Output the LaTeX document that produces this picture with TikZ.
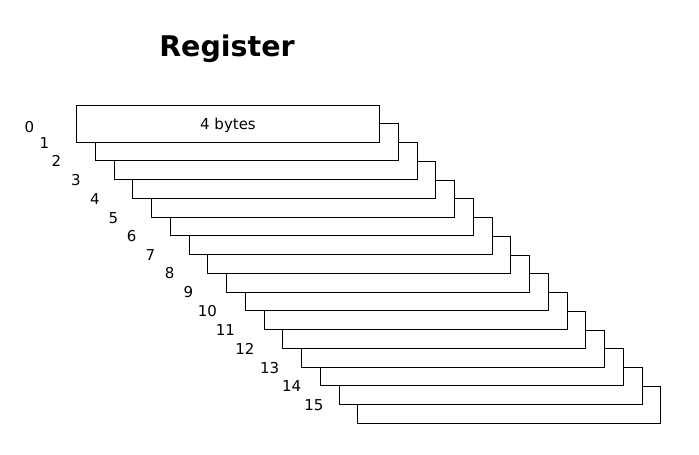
\documentclass[tikz,border=0pt]{standalone}
\usepackage{fontspec}
\setmainfont{DejaVu Sans}
\begin{document}
\begin{tikzpicture}[x=1pt,y=-1pt,
  regbox/.style={draw=black,fill=white,line width=1pt,minimum width=303pt,minimum height=37pt,inner sep=0pt,outer sep=0pt,anchor=center},
  boxtext/.style={inner sep=0pt,anchor=base,font=\fontsize{15}{18}\selectfont},
  idxlabel/.style={inner sep=0pt,anchor=base,font=\fontsize{15}{18}\selectfont},
  titlestyle/.style={inner sep=0pt,anchor=base,font=\fontsize{28.5}{34}\selectfont\bfseries}]
\useasboundingbox (0,0) rectangle (699,455);
\node[titlestyle] (title) at (227,56) {Register};
\foreach \k in {15,14,...,0}{
  \node[regbox] (r\k) at ({228+18.75*\k},{123.5+18.75*\k}) {};
}
\node[boxtext] (t0) at (228,129.3) {4 bytes};
\foreach \k/\x/\y in {0/29.5/132,1/44.5/148,2/56.5/166,3/76/185,4/95/204,5/113.5/223,6/131.7/241.5,7/150.3/260,8/169.7/278.5,9/188.5/297.5,10/207.5/316,11/225.5/335,12/245/354,13/269.7/373,14/291.7/391.5,15/314/410}{
  \node[idxlabel] (l\k) at (\x,\y) {\k};
}
\end{tikzpicture}
\end{document}
